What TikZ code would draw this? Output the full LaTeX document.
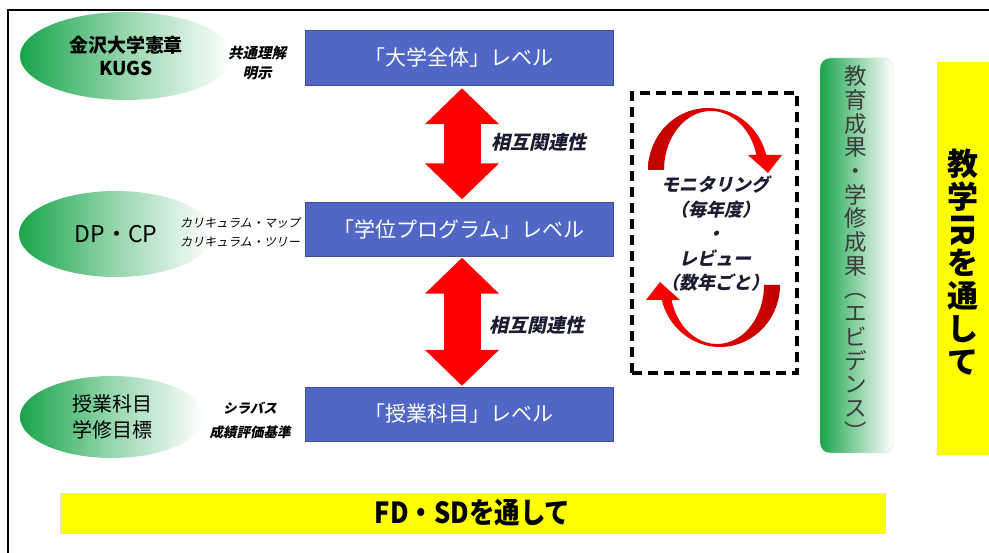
\documentclass[tikz,border=0pt]{standalone}
\usepackage{fontspec}
\setmainfont{Noto Sans CJK JP}
\newfontfamily\jpit{Noto Sans CJK JP}[FakeSlant=0.22]
\usetikzlibrary{shapes.geometric,arrows.meta,calc}
\definecolor{lvlblue}{RGB}{80,103,198}
\definecolor{egreen}{RGB}{24,165,74}
\definecolor{navy}{RGB}{28,28,50}
\definecolor{darkred}{RGB}{192,0,0}
\definecolor{ylw}{RGB}{255,255,0}
\definecolor{evtext}{RGB}{60,60,60}
\begin{document}
\begin{tikzpicture}[x=1pt,y=-1pt,
  lvl/.style={draw=lvlblue!75!black, line width=0.4pt, fill=lvlblue, text=white,
    minimum width=308, minimum height=55, inner sep=0,
    font=\fontsize{21}{22}\selectfont},
  goal/.style={ellipse, left color=egreen, right color=white, middle color=egreen!45!white,
    inner sep=0, align=center},
  note/.style={font=\jpit\bfseries\fontsize{14.5}{20}\selectfont, align=center, text=black},
  rel/.style={font=\jpit\bfseries\fontsize{19}{20}\selectfont, text=navy},
  fatarrow/.style={draw=red, line width=37pt,
    {Triangle[length=36pt,width=72pt]}-{Triangle[length=36pt,width=72pt]}},
]
\useasboundingbox (0,0) rectangle (989,553);
\fill[white] (0,0) rectangle (989,553);
% frame
\draw[line width=1.6pt] (8,553) -- (8,10) -- (989,10);

% ellipses
\node[goal, minimum width=212, minimum height=88,
  font=\bfseries\fontsize{19}{23}\selectfont] (g1) at (126,56) {金沢大学憲章\\KUGS};
\node[goal, minimum width=194, minimum height=86,
  font=\fontsize{23}{26}\selectfont] (g2) at (116,234) {DP・CP};
\node[goal, minimum width=184, minimum height=82,
  font=\fontsize{20}{26}\selectfont] (g3) at (112,417) {授業科目\\学修目標};

% notes
\node[note] (n1) at (257,63) {共通理解\\明示};
\node[note, font=\jpit\fontsize{12}{19}\selectfont] (n2) at (240,232.5) {カリキュラム・マップ\\カリキュラム・ツリー};
\node[note, font=\jpit\bfseries\fontsize{13.5}{24}\selectfont] (n3) at (250,420) {シラバス\\成績評価基準};

% level boxes
\node[lvl] (b1) at (459,57.5) {「大学全体」レベル};
\node[lvl, minimum height=54] (b2) at (459,229.5) {「学位プログラム」レベル};
\node[lvl, minimum height=54] (b3) at (459,414) {「授業科目」レベル};

% double arrows
\draw[fatarrow] ($(b1.south)+(3,3)$) -- ($(b2.north)+(3,-3)$);
\draw[fatarrow] ($(b2.south)+(3,1)$) -- ($(b3.north)+(3,-1)$);
\node[rel] (r1) at (539,142) {相互関連性};
\node[rel] (r2) at (537,325) {相互関連性};

% monitoring box
\node[draw, line width=3.2pt, dash pattern=on 10pt off 6pt,
  minimum width=165, minimum height=280, inner sep=0] (mon) at (714.5,233) {};
\path[left color=darkred, right color=red]
  plot[domain=180:346, samples=40, variable=\t] ({708+60*cos(\t)},{170+62*sin(\t)})
  -- (782,155) -- (768,173) -- (748,155)
  -- plot[domain=345:180, samples=40, variable=\t] ({711+47*cos(\t)},{170+59*sin(\t)})
  -- cycle;
\path[left color=red, right color=darkred]
  plot[domain=180:346, samples=40, variable=\t] ({720-60*cos(\t)},{285-62*sin(\t)})
  -- (646,300) -- (660,282) -- (680,300)
  -- plot[domain=345:180, samples=40, variable=\t] ({717-47*cos(\t)},{285-59*sin(\t)})
  -- cycle;
\node[font=\jpit\bfseries\fontsize{18}{24.5}\selectfont, text=navy, align=center]
  (montext) at (715,234) {モニタリング\\（毎年度）\\・\\レビュー\\（数年ごと）};

% evidence bar
\node[rounded corners=10, draw=gray!25, left color=egreen, right color=white,
  minimum width=73, minimum height=395, inner sep=0] (ev) at (856.5,255.5) {};
\node[font=\fontsize{22.5}{23.7}\selectfont, text=evtext, align=center] (evtext) at (856,253)
  {教\\育\\成\\果\\・\\学\\修\\成\\果\\︵\\エ\\ビ\\デ\\ン\\ス\\︶};

% IR bar
\node[fill=ylw, minimum width=52, minimum height=393, inner sep=0] (ir) at (963,258.5) {};
\node[font=\bfseries\fontsize{31}{33}\selectfont, align=center] (irtext) at (963,262)
  {教\\学\\\rotatebox[origin=c]{-90}{IR}\\を\\通\\し\\て};

% FD SD bar
\node[fill=ylw, draw=gray!25, minimum width=825, minimum height=40, inner sep=0,
  font=\bfseries\fontsize{29}{30}\selectfont] (fd) at (472.5,513)
  {\scalebox{0.88}[1]{FD・SDを通して}};
\end{tikzpicture}
\end{document}
